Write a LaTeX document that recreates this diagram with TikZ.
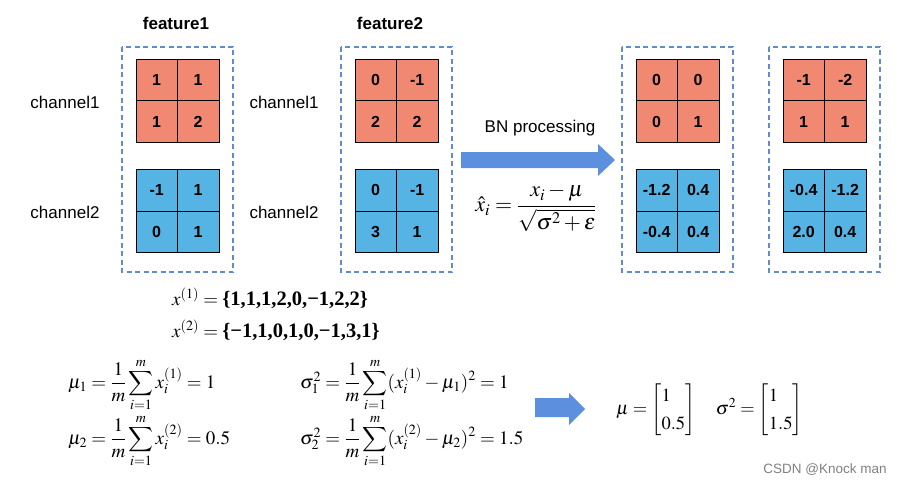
\documentclass[tikz,border=0pt]{standalone}
\usepackage{amsmath}
\usepackage{mathptmx}
\usepackage{exscale}
\usepackage[no-math]{fontspec}
\setmainfont{Liberation Sans}
\newfontfamily\timesbf{Liberation Serif}
\usetikzlibrary{positioning}
\definecolor{chred}{RGB}{241,137,114}
\definecolor{chblue}{RGB}{86,180,228}
\definecolor{boxblue}{RGB}{98,138,206}
\definecolor{arrblue}{RGB}{92,144,222}

\begin{document}
\begin{tikzpicture}[x=1pt, y=-1pt,
  cell/.style={draw, line width=.8pt, minimum size=41.5pt, inner sep=0pt, anchor=north west, font=\fontsize{16}{18}\selectfont\bfseries},
  fbox/.style={draw=boxblue, dash pattern=on 5pt off 3.5pt, line width=1.1pt},
  lbl/.style={font=\fontsize{17}{20}\selectfont, inner sep=0pt},
  eq/.style={font=\fontsize{19}{22}\selectfont, anchor=west, inner sep=0pt}]
\useasboundingbox (0,0) rectangle (904,484);
\node[lbl, font=\fontsize{17}{20}\selectfont\bfseries] (feat1) at (176,23) {feature1};
\node[lbl, font=\fontsize{17}{20}\selectfont\bfseries] (feat2) at (390,23) {feature2};
\foreach \c/\y in {1/102, 2/212}{
  \node[lbl] (chA\c) at (65,\y) {channel\c};
  \node[lbl] (chB\c) at (284,\y) {channel\c};}
\foreach \f/\bx/\red/\blue in {f1/122/{1,1,1,2}/{-1,1,0,1}, f2/341/{0,-1,2,2}/{0,-1,3,1},
    n1/622/{0,0,0,1}/{-1.2,0.4,-0.4,0.4}, n2/769/{-1,-2,1,1}/{-0.4,-1.2,2.0,0.4}}{
  \draw[fbox] (\bx,47) rectangle ++(111,225);
  \foreach \v [count=\k from 0] in \red
    \node[cell, fill=chred] (\f-r\k) at ({\bx+13.5+41.5*mod(\k,2)}, {59+41.5*int(\k/2)}) {\v};
  \foreach \v [count=\k from 0] in \blue
    \node[cell, fill=chblue] (\f-b\k) at ({\bx+13.5+41.5*mod(\k,2)}, {169+41.5*int(\k/2)}) {\v};
}
\fill[arrblue] (461,152) -- (598,152) -- (598,144) -- (615,160) -- (598,176) -- (598,168) -- (461,168) -- cycle;
\node[lbl] (bnlbl) at (540,128) {BN processing};
\node[font=\fontsize{22}{26}\selectfont, inner sep=0pt] (xhat) at (536,208)
  {$\hat{x}_i=\dfrac{x_i-\mu}{\sqrt{\sigma^2+\varepsilon}}$};
\node[eq] (x1) at (172,298) {$x^{(1)}={}${\fontsize{20.5}{24}\timesbf\bfseries\{1,1,1,2,0,−1,2,2\}}};
\node[eq] (x2) at (172,330) {$x^{(2)}={}${\fontsize{20.5}{24}\timesbf\bfseries\{−1,1,0,1,0,−1,3,1\}}};
\node[eq] (mu1) at (68,385) {$\mu_1=\dfrac{1}{m}\displaystyle\sum_{i=1}^{m}x_i^{(1)}=1$};
\node[eq] (mu2) at (68,441) {$\mu_2=\dfrac{1}{m}\displaystyle\sum_{i=1}^{m}x_i^{(2)}=0.5$};
\node[eq] (s1) at (300,385) {$\sigma_1^2=\dfrac{1}{m}\displaystyle\sum_{i=1}^{m}(x_i^{(1)}-\mu_1)^2=1$};
\node[eq] (s2) at (300,441) {$\sigma_2^2=\dfrac{1}{m}\displaystyle\sum_{i=1}^{m}(x_i^{(2)}-\mu_2)^2=1.5$};
\fill[arrblue] (535,398) -- (569,398) -- (569,393) -- (585,409) -- (569,425) -- (569,417) -- (535,417) -- cycle;
\node[eq, font=\fontsize{18.5}{22}\selectfont] (vec) at (616,410) {\renewcommand{\arraystretch}{1.25}$\mu=\left[\begin{array}{@{}l@{}}1\\0.5\end{array}\right]\quad
  \sigma^2=\left[\begin{array}{@{}l@{}}1\\1.5\end{array}\right]$};
\node[font=\fontsize{13.5}{15}\selectfont, text=black!50, inner sep=0pt] (mark) at (825,470) {CSDN @Knock man};
\end{tikzpicture}
\end{document}
